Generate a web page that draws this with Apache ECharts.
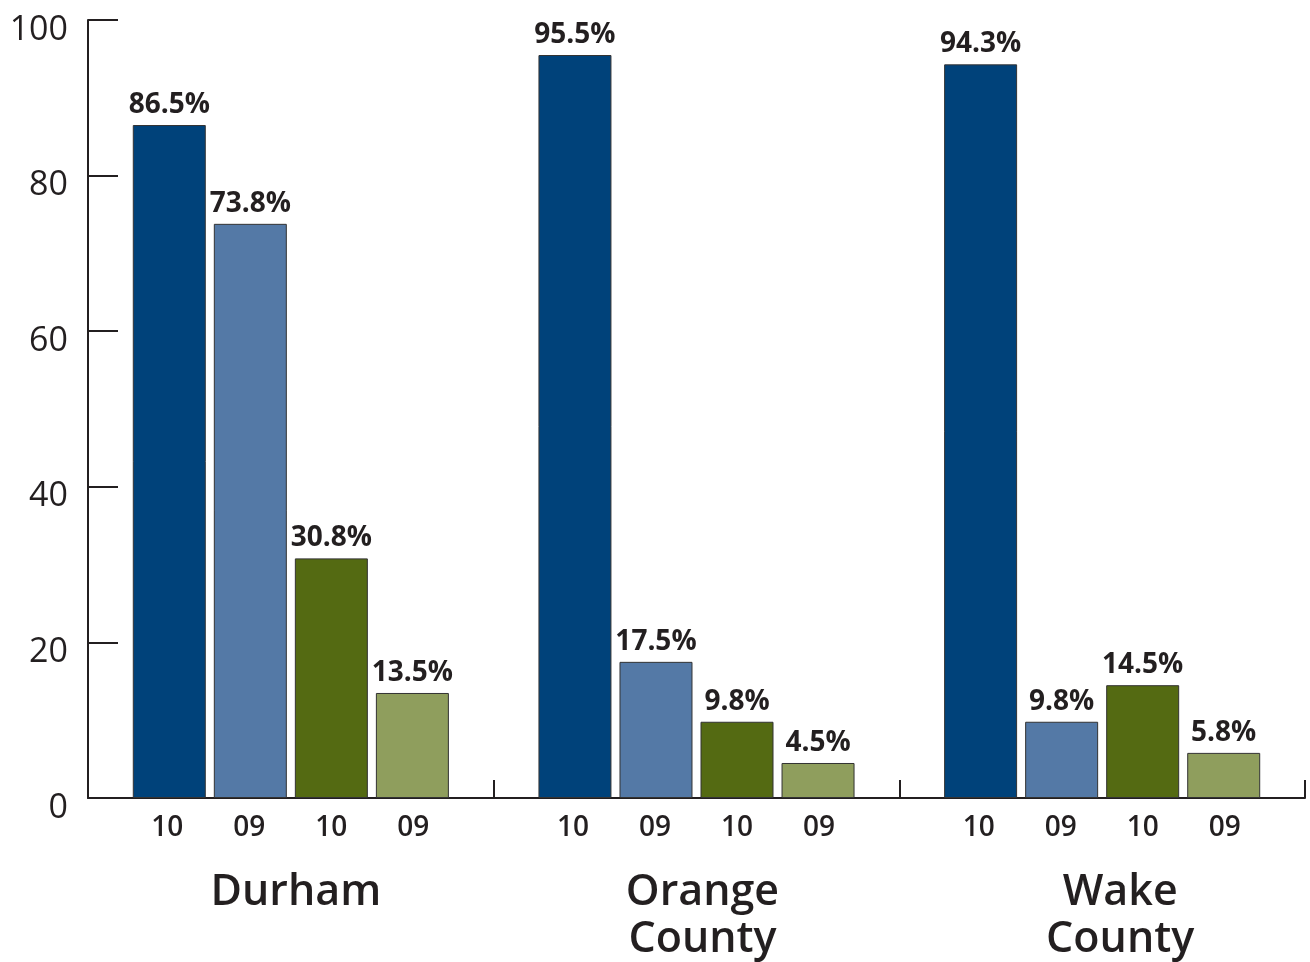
<!DOCTYPE html>
<html>
<head>
<meta charset="utf-8">
<script src="https://cdn.jsdelivr.net/npm/echarts@6/dist/echarts.min.js"></script>
<style>html,body{margin:0;padding:0;background:#fff}#c{width:1310px;height:962px}</style>
</head>
<body>
<div id="c"></div>
<script>
const groups = ['Durham', 'Orange\nCounty', 'Wake\nCounty'];
const subLabels = ['10', '09', '10', '09'];
const seriesA = [86.5, 95.5, 94.3]; // dark blue, '10
const seriesB = [73.8, 17.5, 9.8];  // light blue, '09
const seriesC = [30.8, 9.8, 14.5];  // dark green, '10
const seriesD = [13.5, 4.5, 5.8];   // light green, '09
const yTicks = [0, 20, 40, 60, 80, 100];

const colors = ['#00427a', '#5479a6', '#546a12', '#8f9e5d'];
const txt = '#231f20';
const font = 'Open Sans';
// horizontal nudges (px, as left padding = 2x shift) for each group name
const namePad = [10, 12, 36];

const chart = echarts.init(document.getElementById('c'));
const mk = (name, data, color) => ({
  name, type: 'bar', data,
  barWidth: 73, barGap: '11%',
  itemStyle: { color, borderColor: '#333', borderWidth: 1 },
  label: {
    show: true, position: 'top', distance: 6,
    fontFamily: font, fontWeight: 700, fontSize: 28, color: txt,
    formatter: p => p.value.toFixed(1) + '%'
  }
});

const rich = {
  s: { width: 81, align: 'center', fontFamily: font, fontWeight: 600, fontSize: 28, color: txt, lineHeight: 38, padding: [0, 1, 0, 0] },
  g: { fontSize: 10, lineHeight: 22 }
};
namePad.forEach((p, i) => {
  rich['n' + i] = { fontFamily: font, fontWeight: 600, fontSize: 43, color: txt, lineHeight: 47, padding: [0, 0, 0, p] };
});

chart.setOption({
  animation: false,
  grid: { left: 88, right: 5, top: 20, bottom: 164, containLabel: false },
  xAxis: {
    type: 'category', data: groups, boundaryGap: true,
    axisLine: { lineStyle: { color: txt, width: 2 } },
    axisTick: { show: true, inside: true, length: 18, lineStyle: { color: txt, width: 2 } },
    axisLabel: {
      margin: 11, interval: 0,
      formatter: (v, idx) => {
        const top = subLabels.map(s => '{s|' + s + '}').join('');
        const names = v.split('\n').map(n => '{n' + idx + '|' + n + '}').join('\n');
        return top + '\n{g| }\n' + names;
      },
      rich
    }
  },
  yAxis: {
    type: 'value', min: yTicks[0], max: yTicks[yTicks.length - 1], interval: 20,
    axisLine: { show: true, lineStyle: { color: txt, width: 2 } },
    axisTick: { show: true, inside: true, length: 30, lineStyle: { color: txt, width: 2 } },
    splitLine: { show: false },
    axisLabel: { fontFamily: font, fontSize: 34, color: txt, margin: 20, verticalAlign: 'top', lineHeight: 20 }
  },
  series: [
    mk("'10 a", seriesA, colors[0]),
    mk("'09 a", seriesB, colors[1]),
    mk("'10 b", seriesC, colors[2]),
    mk("'09 b", seriesD, colors[3])
  ]
});
</script>
</body>
</html>
